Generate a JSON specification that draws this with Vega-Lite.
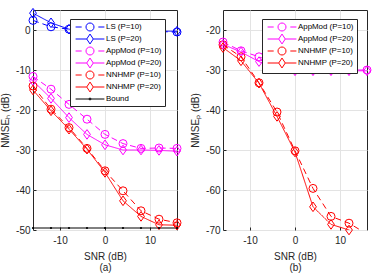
{
  "$schema": "https://vega.github.io/schema/vega-lite/v6.json",
  "padding": {"left": 0, "top": 5, "right": 0, "bottom": 0},
  "background": "white",
  "config": {
    "font": "Liberation Sans",
    "view": {"stroke": "#262626", "strokeWidth": 1},
    "axis": {
      "labelFontSize": 10, "labelColor": "#262626", "titleFontSize": 10, "titleFontWeight": "normal",
      "titleColor": "#262626", "gridColor": "#e3e3e3", "domain": false, "tickColor": "#262626",
      "tickSize": -3, "labelExpr": "'' + datum.value"
    },
    "axisX": {"labelPadding": 8, "titlePadding": 6},
    "axisY": {"labelPadding": 6, "titlePadding": 5},
    "legend": {
      "orient": "none", "title": null, "labelFont": "Liberation Sans", "labelFontSize": 7.9, "labelColor": "#000000",
      "strokeColor": "#262626", "fillColor": "white", "padding": 3, "symbolSize": 81,
      "symbolStrokeWidth": 1, "symbolOffset": 12, "labelOffset": 11, "rowPadding": -4
    }
  },
  "datasets": {
    "a": [
      {"snr": -16, "nmse": 2.4, "series": "LS (P=10)"}, {"snr": -12, "nmse": 0.8, "series": "LS (P=10)"}, {"snr": -8, "nmse": 0.2, "series": "LS (P=10)"}, {"snr": -4, "nmse": 0.0, "series": "LS (P=10)"}, {"snr": 0, "nmse": -0.1, "series": "LS (P=10)"}, {"snr": 4, "nmse": -0.2, "series": "LS (P=10)"}, {"snr": 8, "nmse": -0.3, "series": "LS (P=10)"}, {"snr": 12, "nmse": -0.4, "series": "LS (P=10)"}, {"snr": 16, "nmse": -0.5, "series": "LS (P=10)"},
      {"snr": -16, "nmse": 4.2, "series": "LS (P=20)"}, {"snr": -12, "nmse": 1.8, "series": "LS (P=20)"}, {"snr": -8, "nmse": 0.2, "series": "LS (P=20)"}, {"snr": -4, "nmse": -0.1, "series": "LS (P=20)"}, {"snr": 0, "nmse": -0.2, "series": "LS (P=20)"}, {"snr": 4, "nmse": -0.2, "series": "LS (P=20)"}, {"snr": 8, "nmse": -0.3, "series": "LS (P=20)"}, {"snr": 12, "nmse": -0.3, "series": "LS (P=20)"}, {"snr": 16, "nmse": -0.3, "series": "LS (P=20)"},
      {"snr": -16, "nmse": -11.6, "series": "AppMod (P=10)"}, {"snr": -12, "nmse": -14.8, "series": "AppMod (P=10)"}, {"snr": -8, "nmse": -18.6, "series": "AppMod (P=10)"}, {"snr": -4, "nmse": -22.3, "series": "AppMod (P=10)"}, {"snr": 0, "nmse": -26.1, "series": "AppMod (P=10)"}, {"snr": 4, "nmse": -28.4, "series": "AppMod (P=10)"}, {"snr": 8, "nmse": -29.6, "series": "AppMod (P=10)"}, {"snr": 12, "nmse": -29.5, "series": "AppMod (P=10)"}, {"snr": 16, "nmse": -29.6, "series": "AppMod (P=10)"},
      {"snr": -16, "nmse": -12.7, "series": "AppMod (P=20)"}, {"snr": -12, "nmse": -17.1, "series": "AppMod (P=20)"}, {"snr": -8, "nmse": -21.9, "series": "AppMod (P=20)"}, {"snr": -4, "nmse": -26.1, "series": "AppMod (P=20)"}, {"snr": 0, "nmse": -28.7, "series": "AppMod (P=20)"}, {"snr": 4, "nmse": -30.0, "series": "AppMod (P=20)"}, {"snr": 8, "nmse": -30.0, "series": "AppMod (P=20)"}, {"snr": 12, "nmse": -30.1, "series": "AppMod (P=20)"}, {"snr": 16, "nmse": -30.3, "series": "AppMod (P=20)"},
      {"snr": -16, "nmse": -14.0, "series": "NNHMP (P=10)"}, {"snr": -12, "nmse": -19.8, "series": "NNHMP (P=10)"}, {"snr": -8, "nmse": -24.4, "series": "NNHMP (P=10)"}, {"snr": -4, "nmse": -29.6, "series": "NNHMP (P=10)"}, {"snr": 0, "nmse": -35.2, "series": "NNHMP (P=10)"}, {"snr": 4, "nmse": -40.2, "series": "NNHMP (P=10)"}, {"snr": 8, "nmse": -45.2, "series": "NNHMP (P=10)"}, {"snr": 12, "nmse": -47.3, "series": "NNHMP (P=10)"}, {"snr": 16, "nmse": -48.2, "series": "NNHMP (P=10)"},
      {"snr": -16, "nmse": -15.0, "series": "NNHMP (P=20)"}, {"snr": -12, "nmse": -20.2, "series": "NNHMP (P=20)"}, {"snr": -8, "nmse": -24.8, "series": "NNHMP (P=20)"}, {"snr": -4, "nmse": -29.8, "series": "NNHMP (P=20)"}, {"snr": 0, "nmse": -35.6, "series": "NNHMP (P=20)"}, {"snr": 4, "nmse": -42.7, "series": "NNHMP (P=20)"}, {"snr": 8, "nmse": -46.6, "series": "NNHMP (P=20)"}, {"snr": 12, "nmse": -48.7, "series": "NNHMP (P=20)"}, {"snr": 16, "nmse": -48.8, "series": "NNHMP (P=20)"},
      {"snr": -16, "nmse": -49.5, "series": "Bound"}, {"snr": -12, "nmse": -49.5, "series": "Bound"}, {"snr": -8, "nmse": -49.5, "series": "Bound"}, {"snr": -4, "nmse": -49.5, "series": "Bound"}, {"snr": 0, "nmse": -49.5, "series": "Bound"}, {"snr": 4, "nmse": -49.5, "series": "Bound"}, {"snr": 8, "nmse": -49.5, "series": "Bound"}, {"snr": 12, "nmse": -49.5, "series": "Bound"}, {"snr": 16, "nmse": -49.5, "series": "Bound"}
    ],
    "b": [
      {"snr": -16, "nmse": -23.0, "series": "AppMod (P=10)"}, {"snr": -12, "nmse": -25.2, "series": "AppMod (P=10)"}, {"snr": -8, "nmse": -26.7, "series": "AppMod (P=10)"}, {"snr": -4, "nmse": -28.5, "series": "AppMod (P=10)"}, {"snr": 0, "nmse": -29.8, "series": "AppMod (P=10)"}, {"snr": 4, "nmse": -30.0, "series": "AppMod (P=10)"}, {"snr": 8, "nmse": -30.0, "series": "AppMod (P=10)"}, {"snr": 12, "nmse": -30.0, "series": "AppMod (P=10)"}, {"snr": 16, "nmse": -30.0, "series": "AppMod (P=10)"},
      {"snr": -16, "nmse": -23.6, "series": "AppMod (P=20)"}, {"snr": -12, "nmse": -25.5, "series": "AppMod (P=20)"}, {"snr": -8, "nmse": -27.9, "series": "AppMod (P=20)"}, {"snr": -4, "nmse": -29.7, "series": "AppMod (P=20)"}, {"snr": 0, "nmse": -30.2, "series": "AppMod (P=20)"}, {"snr": 4, "nmse": -30.2, "series": "AppMod (P=20)"}, {"snr": 8, "nmse": -30.2, "series": "AppMod (P=20)"}, {"snr": 12, "nmse": -30.2, "series": "AppMod (P=20)"}, {"snr": 16, "nmse": -30.2, "series": "AppMod (P=20)"},
      {"snr": -16, "nmse": -23.7, "series": "NNHMP (P=10)"}, {"snr": -12, "nmse": -26.7, "series": "NNHMP (P=10)"}, {"snr": -8, "nmse": -33.2, "series": "NNHMP (P=10)"}, {"snr": -4, "nmse": -40.5, "series": "NNHMP (P=10)"}, {"snr": 0, "nmse": -50.2, "series": "NNHMP (P=10)"}, {"snr": 4, "nmse": -59.6, "series": "NNHMP (P=10)"}, {"snr": 8, "nmse": -66.6, "series": "NNHMP (P=10)"}, {"snr": 12, "nmse": -68.3, "series": "NNHMP (P=10)"}, {"snr": 16, "nmse": -71.0, "series": "NNHMP (P=10)"},
      {"snr": -16, "nmse": -24.4, "series": "NNHMP (P=20)"}, {"snr": -12, "nmse": -27.7, "series": "NNHMP (P=20)"}, {"snr": -8, "nmse": -33.3, "series": "NNHMP (P=20)"}, {"snr": -4, "nmse": -41.6, "series": "NNHMP (P=20)"}, {"snr": 0, "nmse": -50.5, "series": "NNHMP (P=20)"}, {"snr": 4, "nmse": -64.2, "series": "NNHMP (P=20)"}, {"snr": 8, "nmse": -68.6, "series": "NNHMP (P=20)"}, {"snr": 12, "nmse": -70.0, "series": "NNHMP (P=20)"}, {"snr": 16, "nmse": -72.5, "series": "NNHMP (P=20)"}
    ]
  },
  "resolve": {
    "scale": {"color": "independent", "stroke": "independent", "strokeDash": "independent", "shape": "independent"},
    "legend": {"color": "independent", "stroke": "independent", "strokeDash": "independent", "shape": "independent"}
  },
  "spacing": 6,
  "hconcat": [
    {
      "width": 144, "height": 220,
      "data": {"name": "a"},
      "encoding": {
        "x": {"field": "snr", "type": "quantitative", "scale": {"domain": [-16, 16], "nice": false, "zero": false},
          "axis": {"values": [-10, 0, 10], "title": ["SNR (dB)", "(a)"], "titleLineHeight": 11}},
        "y": {"field": "nmse", "type": "quantitative", "scale": {"domain": [-50, 5], "nice": false, "zero": false},
          "axis": {"values": [-50, -40, -30, -20, -10, 0], "title": "NMSEₕ (dB)"}}
      },
      "layer": [
        {"mark": {"type": "line", "clip": true, "strokeWidth": 1},
          "encoding": {
            "stroke": {"field": "series", "type": "nominal", "legend": null,
              "scale": {"domain": ["Bound", "NNHMP (P=20)", "NNHMP (P=10)", "AppMod (P=20)", "AppMod (P=10)", "LS (P=20)", "LS (P=10)"],
                "range": ["#000000", "#ff0000", "#ff0000", "#ff00ff", "#ff00ff", "#0000ff", "#0000ff"]}},
            "strokeDash": {"field": "series", "type": "nominal", "legend": null,
              "scale": {"domain": ["LS (P=20)", "LS (P=10)", "AppMod (P=20)", "AppMod (P=10)", "NNHMP (P=20)", "NNHMP (P=10)", "Bound"],
                "range": [[1, 0], [6, 4], [1, 0], [6, 4], [1, 0], [6, 4], [1, 0]]}}}},
        {"transform": [{"filter": "indexof(datum.series, 'P=10') >= 0"}],
          "mark": {"type": "point", "filled": false, "strokeWidth": 1, "size": 64, "opacity": 1, "shape": "circle"},
          "encoding": {"stroke": {"field": "series", "type": "nominal", "legend": null}}},
        {"transform": [{"filter": "indexof(datum.series, 'P=20') >= 0"}],
          "mark": {"type": "point", "filled": false, "strokeWidth": 1, "size": 64, "opacity": 1, "shape": "M0,-1.2L0.85,0L0,1.2L-0.85,0Z"},
          "encoding": {"stroke": {"field": "series", "type": "nominal", "legend": null}}},
        {"transform": [{"filter": "datum.series === 'Bound'"}],
          "mark": {"type": "point", "filled": true, "size": 5, "opacity": 1, "shape": "circle", "color": "#000000"}},
        {"transform": [{"filter": "false"}],
          "mark": {"type": "point", "filled": false, "strokeWidth": 1, "opacity": 1},
          "encoding": {
            "color": {"field": "series", "type": "nominal",
              "scale": {"domain": ["LS (P=10)", "LS (P=20)", "AppMod (P=10)", "AppMod (P=20)", "NNHMP (P=10)", "NNHMP (P=20)", "Bound"],
                "range": ["#0000ff", "#0000ff", "#ff00ff", "#ff00ff", "#ff0000", "#ff0000", "#000000"]},
              "legend": {"legendX": 37, "legendY": 9}},
            "shape": {"field": "series", "type": "nominal",
            "scale": {"domain": ["LS (P=10)", "LS (P=20)", "AppMod (P=10)", "AppMod (P=20)", "NNHMP (P=10)", "NNHMP (P=20)", "Bound"],
              "range": [
                "M-3.2,0H-1.85M1.85,0H3.2M-0.89,0A0.89,0.89,0,1,1,0.89,0A0.89,0.89,0,1,1,-0.89,0Z",
                "M-3.2,0H-0.73M0.73,0H3.2M0,-1.1L0.73,0L0,1.1L-0.73,0Z",
                "M-3.2,0H-1.85M1.85,0H3.2M-0.89,0A0.89,0.89,0,1,1,0.89,0A0.89,0.89,0,1,1,-0.89,0Z",
                "M-3.2,0H-0.73M0.73,0H3.2M0,-1.1L0.73,0L0,1.1L-0.73,0Z",
                "M-3.2,0H-1.85M1.85,0H3.2M-0.89,0A0.89,0.89,0,1,1,0.89,0A0.89,0.89,0,1,1,-0.89,0Z",
                "M-3.2,0H-0.73M0.73,0H3.2M0,-1.1L0.73,0L0,1.1L-0.73,0Z",
                "M-3.2,0H3.2M-0.22,0A0.22,0.22,0,1,1,0.22,0A0.22,0.22,0,1,1,-0.22,0Z"]},
            "legend": {"legendX": 37, "legendY": 9}}}}
      ]
    },
    {
      "width": 144, "height": 220,
      "data": {"name": "b"},
      "encoding": {
        "x": {"field": "snr", "type": "quantitative", "scale": {"domain": [-16, 16], "nice": false, "zero": false},
          "axis": {"values": [-10, 0, 10], "title": ["SNR (dB)", "(b)"], "titleLineHeight": 11}},
        "y": {"field": "nmse", "type": "quantitative", "scale": {"domain": [-70, -15], "nice": false, "zero": false},
          "axis": {"values": [-70, -60, -50, -40, -30, -20], "title": "NMSEₚ (dB)"}}
      },
      "layer": [
        {"mark": {"type": "line", "clip": true, "strokeWidth": 1},
          "encoding": {
            "stroke": {"field": "series", "type": "nominal", "legend": null,
              "scale": {"domain": ["NNHMP (P=20)", "NNHMP (P=10)", "AppMod (P=20)", "AppMod (P=10)"],
                "range": ["#ff0000", "#ff0000", "#ff00ff", "#ff00ff"]}},
            "strokeDash": {"field": "series", "type": "nominal", "legend": null,
              "scale": {"domain": ["AppMod (P=20)", "AppMod (P=10)", "NNHMP (P=20)", "NNHMP (P=10)"],
                "range": [[1, 0], [6, 4], [1, 0], [6, 4]]}}}},
        {"transform": [{"filter": "indexof(datum.series, 'P=10') >= 0 && datum.nmse >= -70.5"}],
          "mark": {"type": "point", "filled": false, "strokeWidth": 1, "size": 64, "opacity": 1, "shape": "circle"},
          "encoding": {"stroke": {"field": "series", "type": "nominal", "legend": null}}},
        {"transform": [{"filter": "indexof(datum.series, 'P=20') >= 0 && datum.nmse >= -70.5"}],
          "mark": {"type": "point", "filled": false, "strokeWidth": 1, "size": 64, "opacity": 1, "shape": "M0,-1.2L0.85,0L0,1.2L-0.85,0Z"},
          "encoding": {"stroke": {"field": "series", "type": "nominal", "legend": null}}},
        {"transform": [{"filter": "false"}],
          "mark": {"type": "point", "filled": false, "strokeWidth": 1, "opacity": 1},
          "encoding": {
            "color": {"field": "series", "type": "nominal",
              "scale": {"domain": ["AppMod (P=10)", "AppMod (P=20)", "NNHMP (P=10)", "NNHMP (P=20)"],
                "range": ["#ff00ff", "#ff00ff", "#ff0000", "#ff0000"]},
              "legend": {"legendX": 39, "legendY": 9}},
            "shape": {"field": "series", "type": "nominal",
            "scale": {"domain": ["AppMod (P=10)", "AppMod (P=20)", "NNHMP (P=10)", "NNHMP (P=20)"],
              "range": [
                "M-3.2,0H-1.85M1.85,0H3.2M-0.89,0A0.89,0.89,0,1,1,0.89,0A0.89,0.89,0,1,1,-0.89,0Z",
                "M-3.2,0H-0.73M0.73,0H3.2M0,-1.1L0.73,0L0,1.1L-0.73,0Z",
                "M-3.2,0H-1.85M1.85,0H3.2M-0.89,0A0.89,0.89,0,1,1,0.89,0A0.89,0.89,0,1,1,-0.89,0Z",
                "M-3.2,0H-0.73M0.73,0H3.2M0,-1.1L0.73,0L0,1.1L-0.73,0Z"]},
            "legend": {"legendX": 39, "legendY": 9}}}}
      ]
    }
  ]
}
